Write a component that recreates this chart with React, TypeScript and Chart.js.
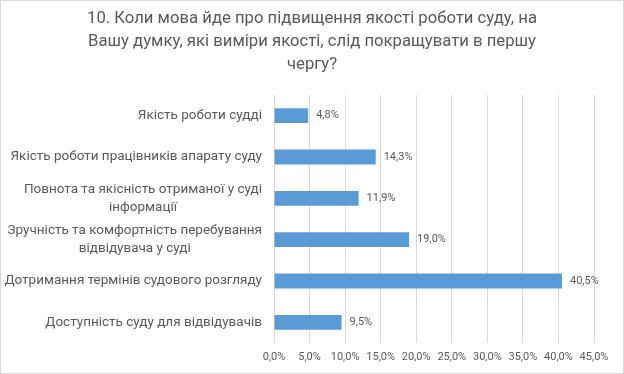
import React, { useEffect, useRef } from 'react';
import { Chart, registerables } from 'chart.js';

Chart.register(...registerables);

const titleLines = [
  '10. Коли мова йде про підвищення якості роботи суду, на',
  'Вашу думку, які виміри якості, слід покращувати в першу',
  'чергу?',
];

const categories: string[][] = [
  ['Якість роботи судді'],
  ['Якість роботи працівників апарату суду'],
  ['Повнота та якісність отриманої у суді', 'інформації'],
  ['Зручність та комфортність перебування', 'відвідувача у суді'],
  ['Дотримання термінів судового розгляду'],
  ['Доступність суду для відвідувачів'],
];

const values = [4.8, 14.3, 11.9, 19.0, 40.5, 9.5];

const axisMin = 0;
const axisMax = 45;
const axisStep = 5;

const TEXT = '#595959';
const FONT = 'Roboto, "Noto Sans", sans-serif';

const fmt = (v: number) => v.toFixed(1).replace('.', ',') + '%';

const decorPlugin = {
  id: 'decor',
  beforeDraw(chart: any) {
    const { ctx, width, height } = chart;
    ctx.save();
    ctx.fillStyle = '#ffffff';
    ctx.fillRect(0, 0, width, height);
    ctx.strokeStyle = '#d9d9d9';
    ctx.lineWidth = 1;
    ctx.strokeRect(0.5, 0.5, width - 1, height - 1);
    ctx.restore();
  },
  afterDraw(chart: any) {
    const { ctx, width } = chart;
    ctx.save();
    ctx.fillStyle = TEXT;
    ctx.font = `16.7px ${FONT}`;
    ctx.textAlign = 'center';
    ctx.textBaseline = 'middle';
    titleLines.forEach((line, i) => {
      ctx.fillText(line, width / 2, 19 + i * 23);
    });

    // category labels: right-aligned block, lines centered within block
    const yScale = chart.scales.y;
    const rightEdge = yScale.right - 12;
    ctx.font = `13.5px ${FONT}`;
    const lh = 18;
    categories.forEach((lines, i) => {
      const y = yScale.getPixelForTick(i);
      const w = Math.max(...lines.map((l) => ctx.measureText(l).width));
      const cx = rightEdge - w / 2;
      const y0 = y - ((lines.length - 1) * lh) / 2;
      lines.forEach((l, j) => ctx.fillText(l, cx, y0 + j * lh));
    });

    // data labels
    const meta = chart.getDatasetMeta(0);
    ctx.font = `11px ${FONT}`;
    ctx.textAlign = 'left';
    meta.data.forEach((bar: any, i: number) => {
      ctx.fillText(fmt(values[i]), bar.x + 8, bar.y);
    });
    ctx.restore();
  },
};

export default function App() {
  const ref = useRef<HTMLCanvasElement>(null);
  useEffect(() => {
    document.body.style.margin = '0';
    const chart = new Chart(ref.current!, {
      type: 'bar',
      data: {
        labels: categories.map((c) => c.join(' ')),
        datasets: [
          {
            data: values,
            backgroundColor: '#5b9bd5',
            borderWidth: 0,
            barPercentage: 0.36,
            categoryPercentage: 1,
          },
        ],
      },
      options: {
        indexAxis: 'y',
        responsive: false,
        animation: false,
        devicePixelRatio: 1,
        layout: { padding: { top: 95, right: 30, bottom: 0, left: 0 } },
        plugins: {
          legend: { display: false },
          title: { display: false },
          tooltip: { enabled: false },
        },
        scales: {
          x: {
            min: axisMin,
            max: axisMax,
            ticks: {
              stepSize: axisStep,
              callback: (v: any) => fmt(Number(v)),
              color: TEXT,
              font: { family: FONT, size: 11 },
              padding: 8,
              maxRotation: 0,
            },
            grid: { color: '#d9d9d9', drawTicks: false },
            border: { display: false },
            afterFit: (s: any) => {
              s.height = 31;
            },
          },
          y: {
            ticks: { display: false },
            grid: { display: false },
            border: { display: false },
            afterFit: (s: any) => {
              s.width = 274;
            },
          },
        },
      },
      plugins: [decorPlugin],
    });
    return () => chart.destroy();
  }, []);
  return <canvas ref={ref} width={624} height={374} style={{ display: 'block' }} />;
}
